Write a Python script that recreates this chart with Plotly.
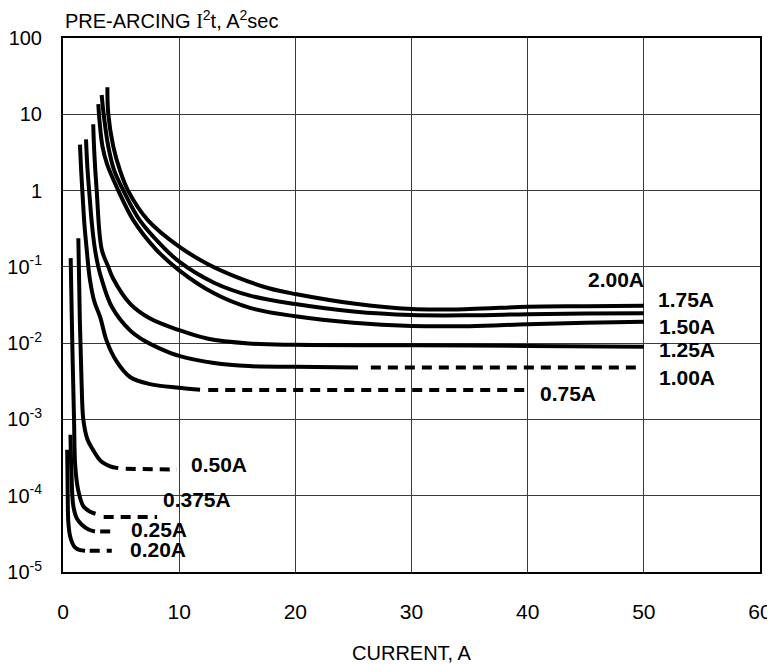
import plotly.graph_objects as go

# ---------------- data ----------------
labels = ["0.20A", "0.25A", "0.375A", "0.50A", "0.75A",
          "1.00A", "1.25A", "1.50A", "1.75A", "2.00A"]

# solid portions (current A, pre-arcing I2t A2s)
c020_x = [0.36, 0.40, 0.46, 0.6, 0.8, 1.03, 1.4, 1.9]
c020_y = [4.0e-4, 1.2e-4, 4.5e-5, 3.0e-5, 2.4e-5, 2.1e-5, 1.95e-5, 1.9e-5]
c025_x = [0.64, 0.72, 0.89, 1.2, 1.6, 2.2, 2.75]
c025_y = [6.3e-4, 2.2e-4, 7.3e-5, 5.0e-5, 4.2e-5, 3.6e-5, 3.4e-5]
c0375_x = [0.66, 0.8, 0.95, 1.05, 1.3, 1.75, 2.3, 2.8]
c0375_y = [0.13, 0.01, 1e-3, 2.5e-4, 1.2e-4, 7.3e-5, 6.2e-5, 5.8e-5]
c050_x = [1.32, 1.45, 1.6, 1.75, 2.1, 2.5, 3.3, 4.0, 4.76]
c050_y = [0.237, 0.02, 3e-3, 1e-3, 5.5e-4, 4.2e-4, 2.8e-4, 2.45e-4, 2.3e-4]
c075_x = [1.46, 1.55, 1.7, 1.85, 2.04, 2.3, 2.7, 3.2, 3.76, 4.6, 5.77, 7.5, 10, 11.8]
c075_y = [4.0, 2.0, 0.8, 0.35, 0.17, 0.071, 0.035, 0.022, 0.0107, 0.0058, 0.0036,
          0.0029, 0.0026, 0.00245]
c100_x = [1.98, 2.1, 2.3, 2.5, 2.75, 3.04, 3.3, 4.2, 5.77, 6.9, 8.5, 10, 13, 16, 20, 25.4]
c100_y = [4.7, 2.0, 0.8, 0.35, 0.17, 0.1, 0.071, 0.03, 0.0147, 0.011, 0.0083, 0.0068,
          0.0055, 0.005, 0.0049, 0.0048]
c125_x = [2.6, 2.7, 2.9, 3.33, 3.9, 4.3, 5.77, 7.5, 10, 12.4, 16, 20, 30, 40, 50]
c125_y = [7.4, 3.0, 1.0, 0.17, 0.1, 0.071, 0.033, 0.021, 0.0148, 0.0115, 0.0099, 0.0095,
          0.0094, 0.0092, 0.009]
c150_x = [3.04, 3.15, 3.4, 3.8, 4.76, 6.05, 8, 10, 13, 16.1, 20, 25, 30, 35, 40, 45, 50]
c150_y = [13.6, 8.0, 3.76, 2.2, 1.0, 0.41, 0.17, 0.09, 0.045, 0.029, 0.0225, 0.0185,
          0.0168, 0.0167, 0.0177, 0.0185, 0.0191]
c175_x = [3.33, 3.5, 3.9, 4.4, 5.2, 6.6, 8.5, 10, 13, 16.1, 20, 25, 30, 35, 40, 45, 50]
c175_y = [17.9, 10, 3.76, 1.85, 1.0, 0.41, 0.19, 0.117, 0.062, 0.042, 0.0325, 0.026,
          0.0234, 0.0232, 0.024, 0.0245, 0.0247]
c200_x = [3.82, 3.9, 4.33, 4.9, 5.6, 7.3, 10, 12.4, 14.9, 17.8, 20, 25, 30, 35, 40, 45, 50]
c200_y = [22.6, 10, 3.76, 1.85, 1.0, 0.41, 0.184, 0.11, 0.074, 0.052, 0.044, 0.033, 0.028,
          0.028, 0.030, 0.0305, 0.031]

# dashed (extrapolated) portions
d020_x, d020_y = [2.3, 4.2], [1.9e-5, 1.9e-5]
d025_x, d025_y = [3.2, 4.3], [3.4e-5, 3.4e-5]
d0375_x, d0375_y = [3.5, 8.1], [5.25e-5, 5.25e-5]
d050_x, d050_y = [5.4, 9.8], [2.25e-4, 2.2e-4]
d075_x, d075_y = [12.5, 39.9], [0.00244, 0.00244]
d100_x, d100_y = [26.5, 49.5], [0.0048, 0.0048]

solid = [(c020_x, c020_y), (c025_x, c025_y), (c0375_x, c0375_y), (c050_x, c050_y),
         (c075_x, c075_y), (c100_x, c100_y), (c125_x, c125_y), (c150_x, c150_y),
         (c175_x, c175_y), (c200_x, c200_y)]
dashed = [(d020_x, d020_y), (d025_x, d025_y), (d0375_x, d0375_y), (d050_x, d050_y),
          (d075_x, d075_y), (d100_x, d100_y)]

y_tickvals = [1e-5, 1e-4, 1e-3, 1e-2, 1e-1, 1, 10, 100]
y_ticktext = ["10<sup>-5</sup>", "10<sup>-4</sup>", "10<sup>-3</sup>", "10<sup>-2</sup>",
              "10<sup>-1</sup>", "1", "10", "100"]
x_tickvals = [0, 10, 20, 30, 40, 50, 60]

# label anchor positions (x in A, y as log10)
label_pos = {
    "2.00A": (47.6, -1.165), "1.75A": (53.6, -1.434), "1.50A": (53.7, -1.788),
    "1.25A": (53.7, -2.089), "1.00A": (53.7, -2.45), "0.75A": (43.5, -2.666),
    "0.50A": (13.4, -3.59), "0.375A": (11.5, -4.05), "0.25A": (8.26, -4.44),
    "0.20A": (8.2, -4.71),
}

FONT = "Liberation Sans, Arial, sans-serif"

fig = go.Figure()
for xs, ys in solid:
    fig.add_trace(go.Scatter(x=xs, y=ys, mode="lines",
                             line=dict(color="black", width=4, shape="spline", smoothing=1.0),
                             hoverinfo="skip"))
for xs, ys in dashed:
    fig.add_trace(go.Scatter(x=xs, y=ys, mode="lines",
                             line=dict(color="black", width=4, dash="10px,7px"),
                             hoverinfo="skip"))

for lab in labels:
    lx, ly = label_pos[lab]
    fig.add_annotation(x=lx, y=ly, text="<b>%s</b>" % lab, showarrow=False,
                       xanchor="center", yanchor="middle",
                       font=dict(family=FONT, size=21, color="black"))

fig.add_annotation(xref="paper", yref="paper", x=0, y=1.0, yshift=19,
                   xanchor="left", yanchor="middle", showarrow=False,
                   text="PRE-ARCING <span style='font-family:Liberation Serif, Times New Roman, serif'>I</span><sup>2</sup>t, A<sup>2</sup>sec",
                   font=dict(family=FONT, size=20, color="black"))

# the page places the figure 8px from the top-left corner
fig.update_layout(
    width=775, height=656,
    margin=dict(l=55, r=23, t=30, b=92),
    plot_bgcolor="white", paper_bgcolor="white",
    showlegend=False,
    font=dict(family=FONT, size=20, color="black"),
    xaxis=dict(range=[0, 60], tickvals=x_tickvals, showgrid=True, gridcolor="#3a3a3a",
               gridwidth=1, showline=True, linecolor="black", linewidth=2, mirror=True,
               zeroline=False, ticks="", ticklabelstandoff=20, automargin=False,
               ticklabeloverflow="allow",
               tickfont=dict(family=FONT, size=21),
               title=dict(text="CURRENT, A", standoff=24, font=dict(family=FONT, size=20))),
    yaxis=dict(type="log", range=[-5, 2], tickvals=y_tickvals, ticktext=y_ticktext,
               showgrid=True, gridcolor="#3a3a3a", gridwidth=1, showline=True,
               linecolor="black", linewidth=2, mirror=True, zeroline=False, ticks="",
               automargin=False, ticklabelstandoff=15, ticklabeloverflow="allow",
               tickfont=dict(family=FONT, size=20)),
)

fig.write_html("out.html")
